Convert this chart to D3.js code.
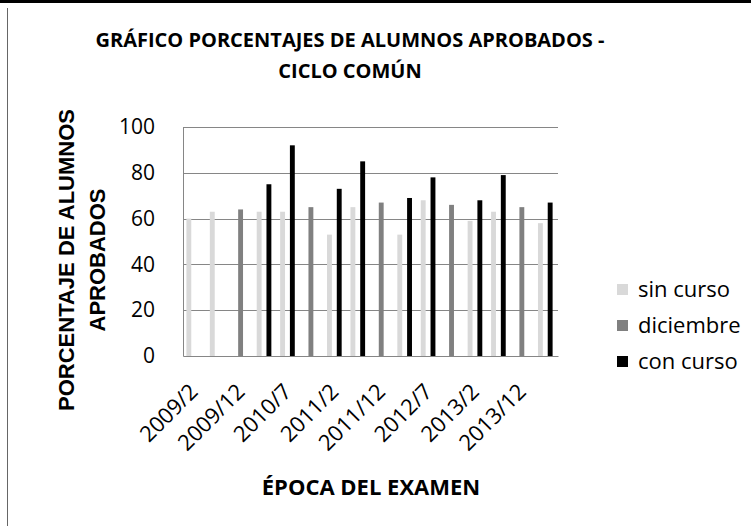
<!DOCTYPE html>
<html>
<head>
<meta charset="utf-8">
<script src="https://cdn.jsdelivr.net/npm/d3@7"></script>
<style>
	body { margin: 0; background: #fff; }
	text { font-family: 'Open Sans', sans-serif; fill: #000; }
</style>
</head>
<body>
<div id="chart"></div>
<script>
var categories = ['2009/2', '2009/7', '2009/12', '2010/2', '2010/7', '2010/12',
	'2011/2', '2011/7', '2011/12', '2012/2', '2012/7', '2012/12',
	'2013/2', '2013/7', '2013/12', '2014/2'];

var sinCurso = [60, 63, null, 63, 63, null, 53, 65, null, 53, 68, null, 59, 63, null, 58];
var diciembre = [null, null, 64, null, null, 65, null, null, 67, null, null, 66, null, null, 65, null];
var conCurso = [null, null, null, 75, 92, null, 73, 85, null, 69, 78, null, 68, 79, null, 67];

var seriesNames = ['sin curso', 'diciembre', 'con curso'];
var seriesColors = ['#d9d9d9', '#808080', '#000000'];
var yTicks = [0, 20, 40, 60, 80, 100];

var buildChart = function() {

	var W = 751, H = 526;
	var plot = {left: 183, right: 558, top: 127, bottom: 356};

	var svg = d3.select('#chart')
		.append('svg')
		.attr('width', W)
		.attr('height', H);

	// frame bits of the original screenshot
	svg.append('line')
		.attr('x1', 0).attr('x2', W)
		.attr('y1', 1.5).attr('y2', 1.5)
		.attr('stroke', '#000')
		.attr('stroke-width', 3);
	svg.append('line')
		.attr('x1', 7.5).attr('x2', 7.5)
		.attr('y1', 8).attr('y2', H)
		.attr('stroke', '#666')
		.attr('stroke-width', 1);

	var x0 = d3.scaleBand()
		.domain(categories)
		.range([plot.left, plot.right])
		.paddingInner(0.375)
		.paddingOuter(0.1875);

	var x1 = d3.scaleBand()
		.domain(seriesNames)
		.range([0, x0.bandwidth()]);

	var y = d3.scaleLinear()
		.domain([0, 100])
		.range([plot.bottom, plot.top]);

	// gridlines
	svg.append('g')
		.selectAll('line')
		.data(yTicks.filter(function(d) {return d > 0}))
		.enter()
		.append('line')
		.attr('x1', plot.left)
		.attr('x2', plot.right)
		.attr('y1', function(d) {return Math.round(y(d)) + 0.5})
		.attr('y2', function(d) {return Math.round(y(d)) + 0.5})
		.attr('stroke', '#868686');

	var rows = [];
	var allSeries = [sinCurso, diciembre, conCurso];
	for (var s = 0; s < allSeries.length; s++) {
		for (var i = 0; i < categories.length; i++) {
			if (allSeries[s][i] !== null) {
				rows.push({cat: categories[i], series: seriesNames[s], value: allSeries[s][i], color: seriesColors[s]});
			}
		}
	}

	svg.append('g')
		.selectAll('rect')
		.data(rows)
		.enter()
		.append('rect')
		.attr('x', function(d) {return x0(d.cat) + x1(d.series) - 1})
		.attr('y', function(d) {return y(d.value)})
		.attr('width', x1.bandwidth())
		.attr('height', function(d) {return y(0) - y(d.value)})
		.attr('fill', function(d) {return d.color});

	// axes
	var yAxis = d3.axisLeft(y)
		.tickValues(yTicks)
		.tickSize(0)
		.tickPadding(28);

	var gy = svg.append('g')
		.attr('transform', 'translate(' + plot.left + ',0)')
		.call(yAxis);
	gy.select('.domain').attr('stroke', '#868686');
	gy.selectAll('text')
		.style('font-family', "'Open Sans', sans-serif")
		.style('font-size', '21px');

	var xAxis = d3.axisBottom(x0)
		.tickValues(categories.filter(function(d, i) {return i % 2 === 0}))
		.tickSize(0);

	var gx = svg.append('g')
		.attr('transform', 'translate(0,' + plot.bottom + ')')
		.call(xAxis);
	gx.select('.domain').attr('stroke', '#868686');
	gx.selectAll('text')
		.attr('x', 0)
		.attr('y', 0)
		.attr('dy', 0)
		.style('text-anchor', 'end')
		.style('font-family', "'Open Sans', sans-serif")
		.style('font-size', '22px')
		.attr('transform', 'translate(4.5,37) rotate(-45)');

	// titles
	var title = svg.append('text')
		.attr('text-anchor', 'middle')
		.style('font-size', '20px')
		.style('font-weight', 'bold');
	title.append('tspan').attr('x', 350).attr('y', 47).text('GRÁFICO PORCENTAJES DE ALUMNOS APROBADOS -');
	title.append('tspan').attr('x', 350).attr('y', 78).text('CICLO COMÚN');

	var yTitle = svg.append('text')
		.attr('text-anchor', 'middle')
		.attr('transform', 'rotate(-90)')
		.style('font-family', "'Liberation Sans', Arial, sans-serif")
		.style('font-size', '22px')
		.style('font-weight', 'bold');
	yTitle.append('tspan').attr('x', -260).attr('y', 74).text('PORCENTAJE DE ALUMNOS');
	yTitle.append('tspan').attr('x', -260).attr('y', 105).text('APROBADOS');

	svg.append('text')
		.attr('x', 371)
		.attr('y', 495)
		.attr('text-anchor', 'middle')
		.style('font-size', '22px')
		.style('font-weight', 'bold')
		.text('ÉPOCA DEL EXAMEN');

	// legend
	var legend = svg.append('g')
		.selectAll('g')
		.data(seriesNames)
		.enter()
		.append('g')
		.attr('transform', function(d, i) {return 'translate(617,' + (284 + i * 36) + ')'});

	legend.append('rect')
		.attr('width', 11)
		.attr('height', 11)
		.attr('fill', function(d, i) {return seriesColors[i]});

	legend.append('text')
		.attr('x', 21)
		.attr('y', 13)
		.style('font-size', '22px')
		.text(function(d) {return d});
};

buildChart();
</script>
</body>
</html>
